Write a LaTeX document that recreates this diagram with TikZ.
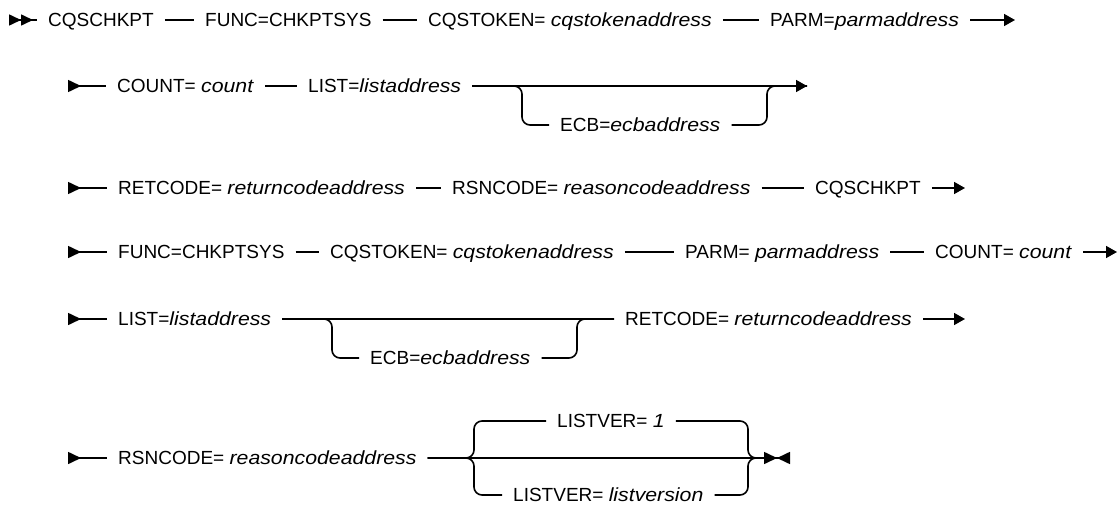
\documentclass[tikz,border=0pt]{standalone}
\usepackage{fontspec}
\setmainfont{Liberation Sans}[ItalicFeatures={FakeStretch=1.12}]
\usepackage{tikz}
\usetikzlibrary{arrows.meta}
\tikzstyle{item}=[anchor=west,inner xsep=11pt,inner ysep=0pt,text height=13.6pt,text depth=0pt,font=\fontsize{19}{23}\selectfont]
\tikzstyle{rail}=[draw,line width=1.6pt]
\tikzstyle{branch}=[rail,rounded corners=8pt]
\tikzstyle{railcont}=[rail,-{Triangle[length=11pt,width=12pt]}]
\tikzstyle{railin}=[rail,{Triangle[reversed,length=13pt,width=12pt]}-]
\tikzstyle{railstart}=[rail,{Triangle[reversed,length=12pt,width=11pt] Triangle[reversed,length=12pt,width=11pt]}-]
\tikzstyle{railend}=[rail,-{Triangle[length=13pt,width=12pt] Triangle[reversed,length=13pt,width=12pt]}]

\begin{document}
\begin{tikzpicture}[x=1pt,y=-1pt]
	\useasboundingbox (0,0) rectangle (1120,506);
	
	% row 1
	\coordinate (s1) at (9,20);
	\node[item] (cqs1) at (37,20) {CQSCHKPT};
	\node[item] (func1) at (194,20) {FUNC=CHKPTSYS};
	\node[item] (tok1) at (417,20) {CQSTOKEN= \textit{cqstokenaddress}};
	\node[item] (parm1) at (759,20) {PARM=\textit{parmaddress}};
	\coordinate (e1) at (1015,20);
	
	\path[railstart] (s1) -- (cqs1);
	\path[rail] (cqs1) edge (func1) (func1) edge (tok1) (tok1) edge (parm1);
	\path[railcont] (parm1) -- (e1);
	
	% row 2
	\coordinate (s2) at (68,86);
	\node[item] (cnt2) at (106,86) {COUNT= \textit{count}};
	\node[item] (list2) at (297,86) {LIST=\textit{listaddress}};
	\node[item] (ecb2) at (549,125) {ECB=\textit{ecbaddress}};
	\coordinate (b2l) at (522,125);
	\coordinate (b2r) at (767,86);
	\coordinate (e2) at (807,86);
	
	\path[railin] (s2) -- (cnt2);
	\path[rail] (cnt2) edge (list2);
	\path[railcont] (list2) -- (e2);
	\path[branch] (list2) -| (b2l) -- (ecb2) -| (b2r) -- (e2);
	
	% row 3
	\coordinate (s3) at (68,188);
	\node[item] (ret3) at (107,188) {RETCODE= \textit{returncodeaddress}};
	\node[item] (rsn3) at (441,188) {RSNCODE= \textit{reasoncodeaddress}};
	\node[item] (cqs3) at (804,188) {CQSCHKPT};
	\coordinate (e3) at (965,188);
	
	\path[railin] (s3) -- (ret3);
	\path[rail] (ret3) edge (rsn3) (rsn3) edge (cqs3);
	\path[railcont] (cqs3) -- (e3);
	
	% row 4
	\coordinate (s4) at (68,252);
	\node[item] (func4) at (107,252) {FUNC=CHKPTSYS};
	\node[item] (tok4) at (319,252) {CQSTOKEN= \textit{cqstokenaddress}};
	\node[item] (parm4) at (674,252) {PARM= \textit{parmaddress}};
	\node[item] (cnt4) at (924,252) {COUNT= \textit{count}};
	\coordinate (e4) at (1117,252);
	
	\path[railin] (s4) -- (func4);
	\path[rail] (func4) edge (tok4) (tok4) edge (parm4) (parm4) edge (cnt4);
	\path[railcont] (cnt4) -- (e4);
	
	% row 5
	\coordinate (s5) at (68,319);
	\node[item] (list5) at (107,319) {LIST=\textit{listaddress}};
	\node[item] (ecb5) at (359,358) {ECB=\textit{ecbaddress}};
	\node[item] (ret5) at (614,319) {RETCODE= \textit{returncodeaddress}};
	\coordinate (b5l) at (332,358);
	\coordinate (b5r) at (577,319);
	\coordinate (e5) at (965,319);
	
	\path[railin] (s5) -- (list5);
	\path[rail] (list5) edge (ret5);
	\path[branch] (list5) -| (b5l) -- (ecb5) -| (b5r) -- (ret5);
	\path[railcont] (ret5) -- (e5);
	
	% row 6
	\coordinate (s6) at (68,458);
	\node[item] (rsn6) at (107,458) {RSNCODE= \textit{reasoncodeaddress}};
	\node[item] (lv1) at (546,421) {LISTVER= \textit{1}};
	\node[item] (lv2) at (502,495) {LISTVER= \textit{listversion}};
	\coordinate (b6u) at (474,421);
	\coordinate (b6d) at (474,495);
	\coordinate (b6r) at (748,458);
	\coordinate (j6) at (762,458);
	\coordinate (e6) at (790,458);
	
	\path[railin] (s6) -- (rsn6);
	\path[railend] (rsn6) -- (e6);
	\path[branch] (rsn6) -| (b6u) -- (lv1) -| (b6r) -- (j6);
	\path[branch] (rsn6) -| (b6d) -- (lv2) -| (b6r) -- (j6);
\end{tikzpicture}
\end{document}
